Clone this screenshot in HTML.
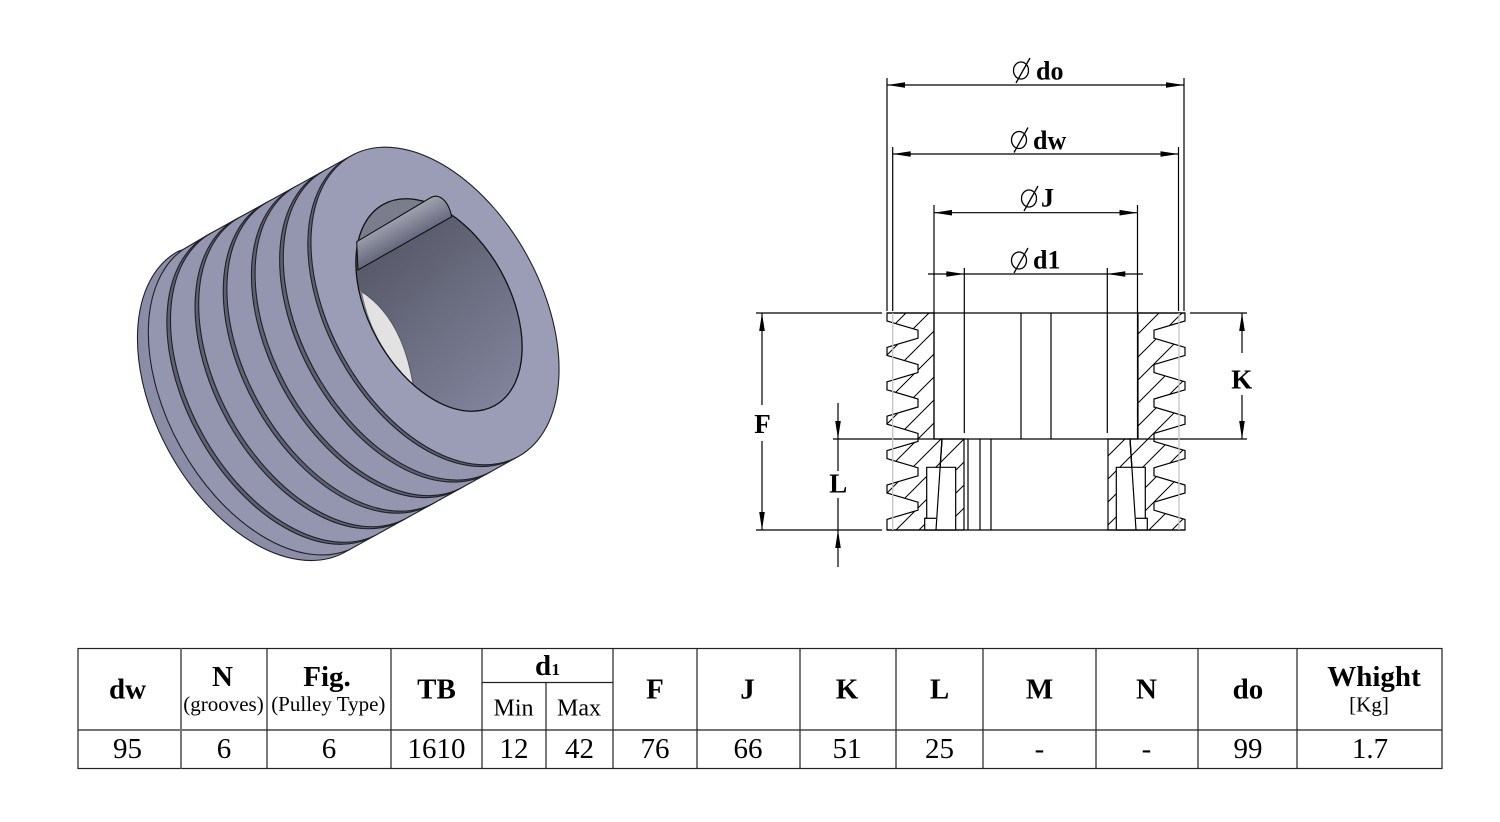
<!DOCTYPE html>
<html><head><meta charset="utf-8"><style>html,body{margin:0;padding:0;background:#fff}svg{display:block}</style></head>
<body>
<svg width="1500" height="822" viewBox="0 0 1500 822" xmlns="http://www.w3.org/2000/svg" font-family="'Liberation Serif', serif">
<defs>
 <pattern id="hat" width="23" height="23" patternUnits="userSpaceOnUse">
  <path d="M-1,24 L24,-1 M-2,2 L2,-2 M21,25 L25,21" stroke="#000" stroke-width="1" fill="none"/>
 </pattern>
 <linearGradient id="boreG" x1="360" y1="240" x2="500" y2="400" gradientUnits="userSpaceOnUse">
  <stop offset="0" stop-color="#545665"/><stop offset="1" stop-color="#80829A"/>
 </linearGradient>
 <linearGradient id="keyG" x1="393" y1="218" x2="407" y2="244" gradientUnits="userSpaceOnUse">
  <stop offset="0" stop-color="#A2A3B0"/><stop offset="1" stop-color="#62647A"/>
 </linearGradient>
 <clipPath id="boreClip"><ellipse cx="439" cy="305" rx="115" ry="70.5" transform="rotate(61 439 305)"/></clipPath>
</defs>
<rect width="1500" height="822" fill="#fff"/>

<!-- 3D pulley -->
<g stroke="#202026" stroke-width="1.1" stroke-linejoin="round">
 <path fill="#8A8DA5" d="M349.21,549.75 L344.38,552.42 A172 105 61 0 1 177.60,251.56 L182.43,249.89 A172 105 61 0 1 349.21,549.75Z"/>
 <path fill="#9396AE" d="M373.79,536.20 L349.21,549.75 A172 105 61 0 1 182.43,249.89 L207.01,235.34 A172 105 61 0 1 373.79,536.20Z"/>
 <path fill="#5E6071" d="M377.41,534.20 L373.79,536.20 A172 105 61 0 1 207.01,235.34 L210.63,233.34 A172 105 61 0 1 377.41,534.20Z"/>
 <path fill="#9396AE" d="M401.98,520.65 L377.41,534.20 A172 105 61 0 1 210.63,233.34 L235.20,219.79 A172 105 61 0 1 401.98,520.65Z"/>
 <path fill="#5E6071" d="M405.61,518.65 L401.98,520.65 A172 105 61 0 1 235.20,219.79 L238.83,217.79 A172 105 61 0 1 405.61,518.65Z"/>
 <path fill="#9396AE" d="M430.18,505.09 L405.61,518.65 A172 105 61 0 1 238.83,217.79 L263.40,204.23 A172 105 61 0 1 430.18,505.09Z"/>
 <path fill="#5E6071" d="M433.80,503.09 L430.18,505.09 A172 105 61 0 1 263.40,204.23 L267.02,202.23 A172 105 61 0 1 433.80,503.09Z"/>
 <path fill="#9396AE" d="M458.37,489.54 L433.80,503.09 A172 105 61 0 1 267.02,202.23 L291.59,188.68 A172 105 61 0 1 458.37,489.54Z"/>
 <path fill="#5E6071" d="M462.00,487.54 L458.37,489.54 A172 105 61 0 1 291.59,188.68 L295.22,186.68 A172 105 61 0 1 462.00,487.54Z"/>
 <path fill="#9396AE" d="M486.57,473.98 L462.00,487.54 A172 105 61 0 1 295.22,186.68 L319.79,173.12 A172 105 61 0 1 486.57,473.98Z"/>
 <path fill="#5E6071" d="M490.19,471.98 L486.57,473.98 A172 105 61 0 1 319.79,173.12 L323.41,171.12 A172 105 61 0 1 490.19,471.98Z"/>
 <path fill="#9396AE" d="M514.77,458.43 L490.19,471.98 A172 105 61 0 1 323.41,171.12 L347.99,157.57 A172 105 61 0 1 514.77,458.43Z"/>
 <path fill="#5E6071" d="M518.39,456.43 L514.77,458.43 A172 105 61 0 1 347.99,157.57 L351.61,155.57 A172 105 61 0 1 518.39,456.43Z"/>
 <ellipse cx="435" cy="306" rx="172" ry="105" transform="rotate(61 435 306)" fill="#9A9DB5"/>
</g>
<!-- bore -->
<g clip-path="url(#boreClip)">
 <rect x="300" y="180" width="250" height="260" fill="url(#boreG)"/>
 <polygon points="320,263.5 480,168 480,150 320,150" fill="#7B7D8D"/>
 <path d="M340,270 L362,292 Q372,345 413,384 L430,430 L330,430 Z" fill="#7A7C8C"/>
 <path d="M362,292 Q372,345 413,384 Q402,318 362,292 Z" fill="#E2E2E2"/>
 <path d="M413,384 Q402,318 362,292" stroke="#555" stroke-width="0.9" fill="none"/>
</g>
<ellipse cx="439" cy="305" rx="115" ry="70.5" transform="rotate(61 439 305)" fill="none" stroke="#111" stroke-width="1.3"/>
<path d="M356.7,241.7 L430,198 C438,193 448,199 451.7,216.7 L358,270 Z" fill="url(#keyG)" stroke="#111" stroke-width="1.1"/>

<!-- Section drawing -->
<g stroke="#000" stroke-width="1.2">
 <polygon fill="url(#hat)" points="934,313 887,313 887,321 918,330.2 918,338.2 887,347.4 887,355.4 918,364.6 918,372.6 887,381.8 887,389.8 918,399 918,407 887,416.2 887,424.2 918,433.4 918,441.4 887,450.6 887,458.6 918,467.8 918,475.8 887,485 887,493 918,502.2 918,510.2 887,519.4 887,530 936,530 942,439 934,439"/>
 <polygon fill="url(#hat)" points="1138,313 1185,313 1185,321 1154,330.2 1154,338.2 1185,347.4 1185,355.4 1154,364.6 1154,372.6 1185,381.8 1185,389.8 1154,399 1154,407 1185,416.2 1185,424.2 1154,433.4 1154,441.4 1185,450.6 1185,458.6 1154,467.8 1154,475.8 1185,485 1185,493 1154,502.2 1154,510.2 1185,519.4 1185,530 1136,530 1130,439 1138,439"/>
 <polygon fill="url(#hat)" points="942,439 964,439 964,530 936,530"/>
 <polygon fill="url(#hat)" points="1108,439 1130,439 1136,530 1108,530"/>
 <path fill="#fff" d="M924.7,530 L924.7,518.3 L926.7,518.3 L926.7,467.3 L955.7,467.3 L955.7,530 Z"/>
 <path fill="#fff" d="M1147.3,530 L1147.3,518.3 L1145.3,518.3 L1145.3,467.3 L1116.3,467.3 L1116.3,530 Z"/>
 <line x1="924.7" y1="518.3" x2="936" y2="518.3"/>
 <line x1="1136" y1="518.3" x2="1147.3" y2="518.3"/>
 <line x1="942" y1="439" x2="936" y2="530"/>
 <line x1="1130" y1="439" x2="1136" y2="530"/>
 <line x1="887" y1="313" x2="1185" y2="313"/>
 <line x1="887" y1="530" x2="1185" y2="530"/>
 <line x1="934" y1="205" x2="934" y2="439"/>
 <line x1="1137.5" y1="205" x2="1137.5" y2="439"/>
 <line x1="1021" y1="313" x2="1021" y2="439"/>
 <line x1="1051" y1="313" x2="1051" y2="439"/>
 <line x1="964.3" y1="268" x2="964.3" y2="433"/>
 <line x1="1107.3" y1="268" x2="1107.3" y2="433"/>
 <line x1="968" y1="439" x2="968" y2="530"/>
 <line x1="980" y1="439" x2="980" y2="530"/>
 <line x1="991" y1="439" x2="991" y2="530"/>
 <line x1="833" y1="439" x2="1247" y2="439"/>
 <line x1="756" y1="313" x2="882" y2="313"/>
 <line x1="756" y1="530" x2="882" y2="530"/>
 <line x1="1190" y1="313" x2="1247" y2="313"/>
 <line x1="887" y1="78" x2="887" y2="311"/>
 <line x1="1184" y1="78" x2="1184" y2="311"/>
 <line x1="892.7" y1="147" x2="892.7" y2="311"/>
 <line x1="1178.5" y1="147" x2="1178.5" y2="311"/>
 <line x1="887" y1="85" x2="1184" y2="85"/>
 <line x1="892.7" y1="154" x2="1178.5" y2="154"/>
 <line x1="934" y1="212.7" x2="1137.5" y2="212.7"/>
 <line x1="928" y1="274" x2="1143" y2="274"/>
 <line x1="762" y1="313" x2="762" y2="405"/>
 <line x1="762" y1="441" x2="762" y2="530"/>
 <line x1="1242" y1="313" x2="1242" y2="353"/>
 <line x1="1242" y1="395" x2="1242" y2="439"/>
 <line x1="838" y1="403" x2="838" y2="471"/>
 <line x1="838" y1="498" x2="838" y2="567"/>
</g>
<line x1="892.7" y1="313" x2="892.7" y2="530" stroke="#c4c4c4" stroke-width="1.3"/>
<line x1="1179" y1="313" x2="1179" y2="530" stroke="#c4c4c4" stroke-width="1.3"/>
<g fill="#000">
 <polygon points="887,85 905,82.2 905,87.8"/>
 <polygon points="1184,85 1166,82.2 1166,87.8"/>
 <polygon points="892.7,154 910.7,151.2 910.7,156.8"/>
 <polygon points="1178.5,154 1160.5,151.2 1160.5,156.8"/>
 <polygon points="934,212.7 952,209.9 952,215.5"/>
 <polygon points="1137.5,212.7 1119.5,209.9 1119.5,215.5"/>
 <polygon points="964.3,274 946.3,271.2 946.3,276.8"/>
 <polygon points="1107.3,274 1125.3,271.2 1125.3,276.8"/>
 <polygon points="762,313 759.2,331 764.8,331"/>
 <polygon points="762,530 759.2,512 764.8,512"/>
 <polygon points="1242,313 1239.2,331 1244.8,331"/>
 <polygon points="1242,439 1239.2,421 1244.8,421"/>
 <polygon points="838,439 835.2,421 840.8,421"/>
 <polygon points="838,530 835.2,548 840.8,548"/>
</g>
<g stroke="#000" stroke-width="1.3" fill="none">
 <ellipse cx="1021" cy="70.5" rx="7.5" ry="8.5"/><line x1="1016" y1="83" x2="1030" y2="58"/>
 <ellipse cx="1019" cy="140" rx="7.5" ry="8.5"/><line x1="1014" y1="152.5" x2="1028" y2="127.5"/>
 <ellipse cx="1029" cy="198.5" rx="7.5" ry="8.5"/><line x1="1024" y1="211" x2="1038" y2="186"/>
 <ellipse cx="1019" cy="260.5" rx="7.5" ry="8.5"/><line x1="1014" y1="273" x2="1028" y2="248"/>
</g>
<g font-weight="bold" fill="#000" font-size="26">
 <text x="1036" y="79.3">do</text>
 <text x="1033" y="149">dw</text>
 <text x="1041" y="206.7">J</text>
 <text x="1033" y="268.3">d1</text>
 <text x="762.5" y="433" font-size="27" text-anchor="middle">F</text>
 <text x="1241.7" y="388.3" font-size="27" text-anchor="middle">K</text>
 <text x="838.3" y="492.7" font-size="27" text-anchor="middle">L</text>
</g>

<!-- Table -->
<g stroke="#222" stroke-width="1.2" fill="none">
 <rect x="78" y="648.5" width="1364" height="120"/>
 <line x1="78" y1="730" x2="1442" y2="730"/>
 <line x1="482" y1="682.5" x2="613" y2="682.5"/>
 <line x1="267" y1="648.5" x2="267" y2="768.5"/>
 <line x1="391" y1="648.5" x2="391" y2="768.5"/>
 <line x1="482" y1="648.5" x2="482" y2="768.5"/>
 <line x1="546" y1="682.5" x2="546" y2="768.5"/>
 <line x1="613" y1="648.5" x2="613" y2="768.5"/>
 <line x1="697" y1="648.5" x2="697" y2="768.5"/>
 <line x1="800" y1="648.5" x2="800" y2="768.5"/>
 <line x1="896" y1="648.5" x2="896" y2="768.5"/>
 <line x1="983" y1="648.5" x2="983" y2="768.5"/>
 <line x1="1096" y1="648.5" x2="1096" y2="768.5"/>
 <line x1="1198" y1="648.5" x2="1198" y2="768.5"/>
 <line x1="1297" y1="648.5" x2="1297" y2="768.5"/>
</g>
<line x1="181" y1="648.5" x2="181" y2="768.5" stroke="#777" stroke-width="2"/>
<g fill="#000" font-weight="bold" font-size="29" text-anchor="middle">
 <text x="127.5" y="698.3">dw</text>
 <text x="222.5" y="686">N</text>
 <text x="327" y="686">Fig.</text>
 <text x="436.5" y="698.5">TB</text>
 <text x="655" y="698.5">F</text>
 <text x="747.5" y="698.5">J</text>
 <text x="847" y="698.5">K</text>
 <text x="939.5" y="698.5">L</text>
 <text x="1039.5" y="698.5">M</text>
 <text x="1146.5" y="698.5">N</text>
 <text x="1248" y="698.5">do</text>
 <text x="1374" y="686">Whight</text>
</g>
<g fill="#000" font-weight="bold">
 <text x="535" y="675" font-size="29">d</text>
 <text x="551.5" y="675" font-size="17">1</text>
</g>
<g fill="#000" text-anchor="middle">
 <text x="223.5" y="711" font-size="21">(grooves)</text>
 <text x="328.3" y="711" font-size="21">(Pulley Type)</text>
 <text x="513.5" y="715.7" font-size="24">Min</text>
 <text x="579" y="715.7" font-size="24">Max</text>
 <text x="1369" y="711.5" font-size="21">[Kg]</text>
</g>
<g fill="#000" font-size="29" text-anchor="middle">
 <text x="127.5" y="758">95</text>
 <text x="224" y="758">6</text>
 <text x="329" y="758">6</text>
 <text x="436.5" y="758">1610</text>
 <text x="514" y="758">12</text>
 <text x="579.5" y="758">42</text>
 <text x="655" y="758">76</text>
 <text x="748" y="758">66</text>
 <text x="847" y="758">51</text>
 <text x="939.5" y="758">25</text>
 <text x="1039.5" y="758">-</text>
 <text x="1146.5" y="758">-</text>
 <text x="1248" y="758">99</text>
 <text x="1370" y="758">1.7</text>
</g>
</svg>
</body></html>
